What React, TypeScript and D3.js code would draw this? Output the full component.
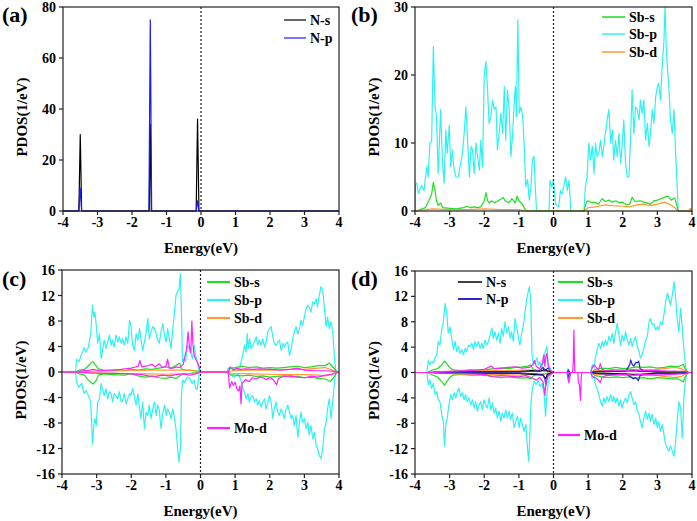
import React from "react";
import * as d3 from "d3";

type Pt = [number, number];

// ---------- (a) N partial DOS ----------
const aNs: Pt[] = [[-4,0],[-3.54,0],[-3.5,30],[-3.46,0],[-1.5,0],[-1.47,34],[-1.44,0],[-0.14,0],[-0.1,36],[-0.06,0],[4,0]];
const aNp: Pt[] = [[-4,0],[-3.54,0],[-3.5,9],[-3.46,0],[-1.51,0],[-1.47,75],[-1.43,0],[-0.14,0],[-0.1,4],[-0.06,0],[4,0]];

// ---------- (b) Sb partial DOS ----------
const bSbs: Pt[] = [[-4,0],[-3.9,0.1],[-3.7,0.5],[-3.6,1.5],[-3.52,2.5],[-3.47,4.2],[-3.42,3],[-3.38,1.5],[-3.33,0.8],[-3.26,1.2],[-3.2,0.5],[-3,0.4],[-2.8,0.3],[-2.6,0.5],[-2.5,0.7],[-2.4,0.5],[-2.3,0.6],[-2.2,0.5],[-2.1,0.6],[-2,1.5],[-1.95,2.7],[-1.9,1.5],[-1.85,1.2],[-1.8,1.5],[-1.7,1.2],[-1.6,1.5],[-1.5,1.8],[-1.45,2],[-1.4,1.5],[-1.3,1.2],[-1.2,1.8],[-1.1,1.2],[-1.05,2.2],[-1,1.5],[-0.9,1],[-0.85,0.5],[-0.8,0.1],[-0.75,0],[0.88,0],[0.95,1.3],[1,1.5],[1.1,1.2],[1.2,1.3],[1.3,1],[1.4,1.8],[1.5,1.4],[1.6,1.6],[1.7,1.3],[1.8,1.5],[1.9,1.2],[2,1.3],[2.1,0.9],[2.2,1],[2.27,2],[2.35,1.4],[2.5,1.5],[2.6,1.3],[2.7,1.2],[2.8,1],[2.9,1.5],[3,1.6],[3.1,1.8],[3.2,2],[3.3,2.2],[3.4,1.6],[3.5,1.9],[3.55,1],[3.6,0],[4,0]];
const bSbp: Pt[] = [[-4,0],[-3.99,3.9],[-3.95,4.1],[-3.9,2.6],[-3.81,3.8],[-3.74,3],[-3.66,6.5],[-3.62,5],[-3.57,10],[-3.52,10.2],[-3.47,24.2],[-3.42,15.3],[-3.38,13.9],[-3.33,5.5],[-3.26,14.9],[-3.21,7.5],[-3.16,4.1],[-3.11,11.9],[-3.07,8.5],[-3.01,12.6],[-2.97,6.5],[-2.92,9],[-2.88,6.5],[-2.82,5],[-2.75,5],[-2.7,6.5],[-2.63,8.5],[-2.58,11.4],[-2.53,15.3],[-2.48,10.4],[-2.43,5],[-2.38,9.5],[-2.34,9],[-2.29,5.5],[-2.24,10],[-2.19,8],[-2.14,6],[-2.1,10.4],[-2.05,6.5],[-2,20.2],[-1.95,22],[-1.9,17.3],[-1.86,12.9],[-1.81,13.9],[-1.76,16.3],[-1.71,14.9],[-1.66,15.3],[-1.62,9],[-1.57,11.4],[-1.52,14.4],[-1.47,11.4],[-1.42,18.3],[-1.38,10.4],[-1.33,17.8],[-1.28,14.9],[-1.23,8],[-1.18,11.4],[-1.13,16.3],[-1.1,18.3],[-1.07,13.9],[-1.03,28.1],[-0.99,14.4],[-0.94,15.3],[-0.89,13.9],[-0.85,10],[-0.8,3.6],[-0.75,4.6],[-0.7,1.6],[-0.65,3.6],[-0.61,7.5],[-0.56,8],[-0.53,4],[-0.49,0],[-0.13,0],[-0.1,4.5],[-0.05,3.5],[0,4.5],[0.06,1],[0.15,0.6],[0.2,3],[0.25,2.5],[0.35,5],[0.4,3],[0.45,4.5],[0.5,0],[0.88,0],[0.92,3.6],[0.97,5],[1.02,10],[1.07,7.5],[1.12,9.5],[1.17,5.5],[1.21,10],[1.26,8],[1.31,8.5],[1.36,10.4],[1.41,8],[1.45,9.5],[1.5,11.4],[1.55,13.4],[1.6,14.9],[1.65,10],[1.7,11.9],[1.74,7.5],[1.79,10.4],[1.84,8],[1.89,11.4],[1.94,7],[1.98,9.5],[2.03,13.4],[2.08,7],[2.13,5],[2.18,5],[2.23,11.4],[2.27,17.8],[2.32,11.4],[2.37,15.3],[2.42,14.9],[2.47,13.4],[2.51,16.3],[2.56,14.4],[2.61,16.3],[2.66,10.4],[2.71,12.9],[2.76,9.5],[2.8,11.4],[2.85,14.9],[2.9,12.9],[2.95,16.8],[3,18.3],[3.04,18.8],[3.09,16.3],[3.14,21.2],[3.19,25.1],[3.22,30],[3.26,23.6],[3.29,21.2],[3.33,18.3],[3.38,13.4],[3.43,11.4],[3.48,14.9],[3.53,8],[3.57,4],[3.6,0],[4,0]];
const bSbd: Pt[] = [[-4,0],[-3.9,0.05],[-3.5,0.3],[-3,0.2],[-2.5,0.2],[-2,0.3],[-1.5,0.2],[-1,0.2],[-0.8,0],[0.9,0],[1,0.5],[1.2,0.6],[1.5,0.9],[1.7,0.8],[2,0.7],[2.2,0.6],[2.4,0.9],[2.6,1],[2.8,0.8],[3,1],[3.2,1.3],[3.35,1],[3.5,0.5],[3.6,0],[3.9,0],[3.95,0.4],[4,0]];

// ---------- (c) spin-resolved, Mo doped ----------
const cSbsUp: Pt[] = [[-4,0],[-3.6,0],[-3.5,0.3],[-3.35,0.4],[-3.25,0.9],[-3.15,1.5],[-3.1,1.6],[-3.05,1.2],[-2.95,0.5],[-2.8,0.3],[-2.6,0.2],[-2.4,0.3],[-2.2,0.2],[-2,0.4],[-1.8,0.3],[-1.6,0.5],[-1.4,0.4],[-1.2,0.6],[-1,0.8],[-0.85,0.6],[-0.75,0.9],[-0.65,1.2],[-0.6,1.4],[-0.55,0.5],[-0.45,0.3],[-0.3,0.3],[-0.15,0.2],[-0.05,0.1],[0,0],[0.8,0],[0.85,0.6],[1,0.7],[1.2,0.9],[1.4,0.7],[1.6,0.8],[1.8,0.6],[2,0.7],[2.2,0.6],[2.4,0.7],[2.6,0.8],[2.8,0.9],[3,0.7],[3.2,0.8],[3.4,1],[3.6,1],[3.72,1.4],[3.8,0.9],[3.9,0.3],[3.95,0],[4,0]];
const cSbsDn: Pt[] = [[-4,0],[-3.6,0],[-3.5,-0.3],[-3.35,-0.5],[-3.25,-1.2],[-3.15,-1.7],[-3.1,-1.9],[-3,-1.2],[-2.95,-0.5],[-2.8,-0.3],[-2.5,-0.4],[-2.2,-0.5],[-2,-0.3],[-1.8,-0.6],[-1.6,-0.8],[-1.4,-0.7],[-1.2,-0.9],[-1,-1],[-0.85,-0.8],[-0.7,-1],[-0.6,-0.6],[-0.5,-0.3],[-0.3,-0.2],[0,0],[0.8,0],[0.85,-0.4],[1,-0.5],[1.2,-0.6],[1.4,-0.5],[1.6,-0.7],[1.8,-0.6],[2,-0.8],[2.2,-0.7],[2.4,-0.6],[2.6,-0.8],[2.8,-0.7],[3,-0.9],[3.2,-0.8],[3.4,-1],[3.6,-1.1],[3.75,-1.5],[3.85,-0.8],[3.95,0],[4,0]];
const cSbpUp: Pt[] = [[-4,0],[-3.61,0],[-3.58,2],[-3.51,1.6],[-3.43,2.9],[-3.36,3.8],[-3.31,3.1],[-3.24,3.9],[-3.17,6],[-3.12,10.5],[-3.08,8.6],[-3.05,9.4],[-3.01,7.3],[-2.97,4.5],[-2.92,6],[-2.87,2.1],[-2.82,3.7],[-2.78,5],[-2.73,3.7],[-2.68,4.7],[-2.63,5.8],[-2.58,4.2],[-2.54,5],[-2.49,3.9],[-2.44,5.8],[-2.39,4.7],[-2.34,5.5],[-2.29,4.5],[-2.25,5.2],[-2.2,4.2],[-2.15,5.5],[-2.1,4.5],[-2.05,8.1],[-2.01,7.3],[-1.96,4.2],[-1.91,3.4],[-1.86,6],[-1.81,5],[-1.76,6.8],[-1.72,5.2],[-1.67,3.4],[-1.62,4.7],[-1.57,6.3],[-1.52,8.4],[-1.48,5.2],[-1.43,6.3],[-1.38,7.1],[-1.33,6.8],[-1.28,6],[-1.24,5],[-1.19,4.5],[-1.14,6.3],[-1.09,7.6],[-1.04,5.8],[-0.99,4.7],[-0.95,6.8],[-0.9,5.2],[-0.85,3.7],[-0.8,6.8],[-0.75,9.4],[-0.71,12],[-0.66,12.6],[-0.62,13.1],[-0.58,15.4],[-0.55,9.4],[-0.52,1.6],[-0.47,2.1],[-0.43,1.6],[-0.38,4.2],[-0.33,3.7],[-0.28,2.9],[-0.23,2.1],[-0.18,4.2],[-0.14,2.6],[-0.09,1.6],[-0.04,0],[0.78,0],[0.79,0.6],[0.84,0.5],[0.93,0.6],[1.03,0.3],[1.13,0.5],[1.17,1.6],[1.22,2.6],[1.27,4.2],[1.32,3.1],[1.35,6],[1.38,3.7],[1.42,5.2],[1.46,3.7],[1.51,4.2],[1.56,4.7],[1.61,5.5],[1.65,4.2],[1.7,5],[1.75,4.2],[1.8,5.2],[1.85,3.9],[1.89,4.5],[1.94,6.3],[1.99,6.8],[2.04,7.1],[2.09,5.5],[2.13,4.5],[2.18,4.2],[2.23,4.7],[2.28,5],[2.33,3.4],[2.38,4.5],[2.42,3.9],[2.47,4.5],[2.52,4.7],[2.57,2.6],[2.62,3.7],[2.66,5.2],[2.71,6.3],[2.76,7.1],[2.81,6],[2.86,6.8],[2.9,8.1],[2.95,7.3],[3,8.6],[3.05,9.9],[3.1,10.5],[3.14,10.2],[3.19,9.4],[3.24,11],[3.29,10.7],[3.34,11.5],[3.38,10.2],[3.43,12],[3.48,13.4],[3.53,12.8],[3.58,9.9],[3.63,7.1],[3.67,8.6],[3.72,6.8],[3.77,7.9],[3.82,6.3],[3.87,2.1],[3.91,0],[4,0]];
const cSbpDn: Pt[] = [[-4,0],[-3.61,0],[-3.58,-1.6],[-3.51,-2.4],[-3.43,-1.8],[-3.36,-3.4],[-3.31,-2.9],[-3.24,-3.7],[-3.17,-4.7],[-3.12,-11.3],[-3.08,-8.4],[-3.05,-7.3],[-3.01,-8.4],[-2.97,-4.7],[-2.92,-4.2],[-2.87,-1.8],[-2.82,-2.9],[-2.78,-3.7],[-2.73,-2.6],[-2.68,-4.2],[-2.63,-3.1],[-2.58,-3.4],[-2.54,-4.7],[-2.49,-3.4],[-2.44,-3.7],[-2.39,-4.2],[-2.34,-3.1],[-2.29,-4.7],[-2.25,-4.5],[-2.2,-3.4],[-2.15,-5],[-2.1,-4.2],[-2.05,-3.4],[-2.01,-3.7],[-1.96,-2.6],[-1.91,-3.9],[-1.86,-5.2],[-1.81,-3.4],[-1.76,-5.8],[-1.72,-7.3],[-1.67,-4.7],[-1.62,-8.9],[-1.57,-6.3],[-1.52,-6.8],[-1.48,-5.2],[-1.43,-7.3],[-1.38,-5.8],[-1.33,-4.7],[-1.28,-6.8],[-1.24,-5.2],[-1.19,-6],[-1.14,-8.9],[-1.09,-6.5],[-1.04,-5.2],[-0.99,-6.8],[-0.95,-5.8],[-0.9,-6.3],[-0.85,-7.3],[-0.8,-5.8],[-0.75,-7.3],[-0.71,-8.9],[-0.66,-12],[-0.62,-14.1],[-0.58,-12],[-0.55,-3.7],[-0.52,-1.3],[-0.45,-1.6],[-0.38,-0.8],[-0.31,-1],[-0.24,-1.8],[-0.18,-1.3],[-0.14,-2.6],[-0.1,-2.8],[-0.07,-1.6],[-0.04,0],[0.78,0],[0.79,-0.2],[0.88,-0.5],[0.98,-0.8],[1.08,-0.3],[1.17,-1.3],[1.22,-2.6],[1.27,-3.1],[1.32,-4.2],[1.37,-3.4],[1.41,-4.7],[1.46,-3.9],[1.51,-3.7],[1.56,-4.7],[1.61,-4.2],[1.65,-5.2],[1.7,-4.5],[1.75,-5.5],[1.8,-4.7],[1.85,-4.2],[1.89,-5.8],[1.94,-5],[1.99,-3.7],[2.04,-4.7],[2.09,-7.3],[2.13,-5.8],[2.18,-4.7],[2.23,-6.3],[2.28,-6.8],[2.33,-5.8],[2.38,-6.5],[2.42,-7.3],[2.47,-5.8],[2.52,-5.2],[2.57,-6.3],[2.62,-7.3],[2.66,-6.8],[2.71,-8.4],[2.76,-6.8],[2.81,-10.2],[2.86,-7.9],[2.9,-6.3],[2.95,-7.9],[3,-7.3],[3.05,-8.9],[3.1,-7.9],[3.14,-9.9],[3.19,-8.4],[3.24,-10.5],[3.29,-9.4],[3.34,-11.5],[3.38,-12],[3.43,-13.1],[3.48,-13.6],[3.53,-12],[3.58,-8.9],[3.63,-7.9],[3.67,-5.8],[3.72,-4.2],[3.77,-7.3],[3.82,-4.7],[3.87,-1.6],[3.91,0],[4,0]];
const cSbdUp: Pt[] = [[-4,0],[-3.6,0],[-3.4,0.1],[-3,0.15],[-2.5,0.2],[-2,0.2],[-1.5,0.3],[-1,0.3],[-0.5,0.3],[-0.2,0.2],[0,0],[0.8,0],[0.9,0.2],[1.5,0.3],[2,0.3],[2.5,0.4],[3,0.4],[3.4,0.6],[3.6,0.7],[3.8,0.3],[3.95,0],[4,0]];
const cSbdDn: Pt[] = [[-4,0],[-3.6,0],[-3.4,-0.1],[-3,-0.15],[-2.5,-0.2],[-2,-0.25],[-1.5,-0.3],[-1,-0.35],[-0.5,-0.3],[-0.2,-0.2],[0,0],[0.8,0],[0.9,-0.2],[1.5,-0.3],[2,-0.35],[2.5,-0.4],[3,-0.4],[3.4,-0.5],[3.6,-0.6],[3.8,-0.3],[3.95,0],[4,0]];
const cModUp: Pt[] = [[-4,0],[-3.6,0],[-3.4,0.2],[-3.2,0.3],[-3.1,0.4],[-2.9,0.2],[-2.6,0.3],[-2.3,0.4],[-2,0.6],[-1.8,0.9],[-1.75,1.8],[-1.7,0.8],[-1.5,1],[-1.4,1.2],[-1.3,0.8],[-1.2,1.3],[-1.1,0.7],[-1,0.9],[-0.95,2],[-0.9,0.6],[-0.8,0.6],[-0.7,0.8],[-0.6,0.7],[-0.5,1.2],[-0.45,2.5],[-0.4,3.6],[-0.36,6.3],[-0.32,4],[-0.28,3],[-0.25,8],[-0.22,4.5],[-0.18,2.5],[-0.12,1.8],[-0.06,1.2],[0,0],[0.8,0],[0.85,0.8],[0.95,0.3],[1.05,0.6],[1.15,0.4],[1.3,0.5],[1.5,0.4],[1.7,0.5],[2,0.4],[2.3,0.3],[2.6,0.4],[2.8,0.6],[3,0.3],[3.3,0.2],[3.6,0.2],[3.9,0.1],[4,0]];
const cModDn: Pt[] = [[-4,0],[-3.6,0],[-3.3,-0.1],[-3,-0.2],[-2.5,-0.2],[-2,-0.3],[-1.7,-0.4],[-1.5,-0.6],[-1.3,-0.7],[-1.1,-0.5],[-0.9,-0.6],[-0.7,-0.4],[-0.5,-0.3],[-0.3,-0.5],[-0.15,-0.3],[0,0],[0.8,0],[0.84,-2.5],[0.9,-1.5],[0.95,-2.1],[1,-1.6],[1.05,-2.6],[1.1,-3],[1.14,-2.2],[1.17,-5],[1.2,-1.8],[1.3,-1.2],[1.4,-1.5],[1.5,-0.9],[1.6,-1.1],[1.7,-0.8],[1.8,-0.9],[1.9,-1.2],[2,-0.9],[2.1,-1.2],[2.2,-2],[2.25,-1],[2.4,-0.7],[2.6,-0.6],[2.8,-0.8],[3,-0.9],[3.2,-0.7],[3.4,-0.8],[3.6,-0.5],[3.8,-0.4],[3.95,0],[4,0]];

// ---------- (d) spin-resolved, N-Mo co-doped ----------
const dNsUp: Pt[] = [[-4,0],[-3.6,0],[-3,0.05],[-2,0.1],[-1,0.15],[-0.6,0.3],[-0.4,0.2],[-0.25,0.5],[-0.2,0.3],[0,0],[1.1,0],[1.2,0.1],[2,0.2],[2.3,0.3],[2.5,0.2],[3,0.1],[3.8,0.1],[3.9,0],[4,0]];
const dNsDn: Pt[] = [[-4,0],[-3.6,0],[-3,-0.05],[-2,-0.1],[-1,-0.15],[-0.6,-0.3],[-0.3,-0.4],[-0.22,-1],[-0.18,-0.3],[0,0],[1.1,0],[1.2,-0.1],[2,-0.2],[2.3,-0.3],[2.5,-0.3],[3,-0.1],[3.8,-0.1],[3.9,0],[4,0]];
const dNpUp: Pt[] = [[-4,0],[-3.6,0],[-2,0.05],[-1,0.1],[-0.6,0.2],[-0.4,0.3],[-0.3,0.8],[-0.25,0.3],[-0.15,0.7],[-0.1,0.2],[0,0],[0.4,0],[0.43,0.4],[0.47,0],[1.1,0],[1.3,0.2],[1.8,0.2],[2.1,0.3],[2.2,1.2],[2.23,2],[2.27,1.3],[2.32,1],[2.38,1.6],[2.42,1.5],[2.46,1.8],[2.5,0.6],[2.6,0.3],[3,0.1],[3.5,0.2],[3.9,0],[4,0]];
const dNpDn: Pt[] = [[-4,0],[-3.6,0],[-2,-0.05],[-1,-0.1],[-0.5,-0.2],[-0.3,-0.4],[-0.25,-1],[-0.22,-2],[-0.18,-0.6],[-0.1,-0.2],[0,0],[0.4,0],[0.43,-0.8],[0.47,0],[1.1,0],[1.3,-0.2],[1.8,-0.3],[2.1,-0.2],[2.2,-0.6],[2.3,-1],[2.38,-0.8],[2.45,-1.3],[2.5,-0.5],[2.6,-0.3],[3,-0.2],[3.5,-0.2],[3.9,0],[4,0]];
const dSbsUp: Pt[] = [[-4,0],[-3.65,0],[-3.5,0.4],[-3.35,0.6],[-3.25,1.1],[-3.15,1.8],[-3.1,1.5],[-3,0.8],[-2.9,0.4],[-2.7,0.3],[-2.4,0.4],[-2.1,0.3],[-1.9,0.5],[-1.7,0.6],[-1.5,0.7],[-1.3,0.6],[-1.1,0.8],[-0.9,0.9],[-0.75,1],[-0.65,1.2],[-0.6,0.6],[-0.5,0.3],[-0.3,0.2],[-0.1,0.1],[0,0],[1.1,0],[1.2,0.5],[1.4,0.7],[1.6,0.6],[1.8,0.8],[2,0.6],[2.2,0.7],[2.4,0.9],[2.6,0.8],[2.8,0.9],[3,0.7],[3.2,0.8],[3.4,1],[3.6,0.9],[3.75,1.3],[3.8,0.6],[3.9,0],[4,0]];
const dSbsDn: Pt[] = [[-4,0],[-3.65,0],[-3.5,-0.4],[-3.35,-0.7],[-3.25,-1.3],[-3.15,-2],[-3.1,-1.6],[-3,-0.8],[-2.9,-0.4],[-2.7,-0.3],[-2.4,-0.4],[-2.1,-0.4],[-1.9,-0.5],[-1.7,-0.7],[-1.5,-0.8],[-1.3,-0.7],[-1.1,-0.8],[-0.9,-0.9],[-0.75,-0.8],[-0.65,-1],[-0.6,-0.6],[-0.5,-0.3],[-0.3,-0.2],[-0.1,-0.1],[0,0],[1.1,0],[1.2,-0.5],[1.4,-0.7],[1.6,-0.8],[1.8,-0.7],[2,-0.8],[2.2,-0.7],[2.4,-0.9],[2.6,-0.8],[2.8,-1],[3,-0.8],[3.2,-0.9],[3.4,-1],[3.6,-1],[3.75,-1.5],[3.8,-0.7],[3.9,0],[4,0]];
const dSbpUp: Pt[] = [[-4,0],[-3.66,0],[-3.61,2],[-3.57,1.2],[-3.52,1.7],[-3.47,1.5],[-3.42,2.3],[-3.37,2.8],[-3.33,4.9],[-3.28,4.3],[-3.23,6.7],[-3.18,8],[-3.13,10.9],[-3.08,9.3],[-3.04,6.2],[-2.99,7.2],[-2.94,5.4],[-2.89,3.6],[-2.84,4.9],[-2.8,3.3],[-2.75,4.1],[-2.7,3],[-2.65,3.6],[-2.6,2.8],[-2.55,3.8],[-2.51,3.3],[-2.46,4.3],[-2.41,4.1],[-2.36,4.6],[-2.31,3.6],[-2.27,4.9],[-2.22,4.1],[-2.17,4.9],[-2.12,3.8],[-2.07,4.6],[-2.03,3.8],[-1.98,5.1],[-1.93,4.3],[-1.88,4.9],[-1.83,5.9],[-1.78,7],[-1.74,5.4],[-1.69,6.4],[-1.64,5.1],[-1.59,6.2],[-1.54,4.6],[-1.5,7],[-1.45,5.7],[-1.4,8],[-1.35,6.2],[-1.3,7.2],[-1.25,5.4],[-1.21,6.4],[-1.16,4.9],[-1.11,8.5],[-1.06,7],[-1.01,5.4],[-0.97,4.3],[-0.92,6.2],[-0.87,7.5],[-0.82,9.6],[-0.77,11.7],[-0.72,13],[-0.7,13.5],[-0.66,11.7],[-0.62,2.8],[-0.58,1.2],[-0.53,1.7],[-0.48,2.3],[-0.44,1.2],[-0.39,1.7],[-0.34,0.7],[-0.29,1.7],[-0.24,3.3],[-0.19,4.1],[-0.15,1.2],[-0.1,0.7],[-0.05,0],[0.38,0],[0.42,0.6],[0.46,0],[1.07,0],[1.12,1.2],[1.17,0.7],[1.21,2.3],[1.26,3.6],[1.31,4.6],[1.36,3.8],[1.41,4.9],[1.45,4.1],[1.5,5.1],[1.55,4.3],[1.6,5.7],[1.65,4.9],[1.7,6.2],[1.74,4.6],[1.79,6.2],[1.84,7.7],[1.89,5.9],[1.94,4.3],[1.98,5.9],[2.03,4.9],[2.08,6.4],[2.13,5.1],[2.18,4.3],[2.23,5.4],[2.27,4.1],[2.32,4.9],[2.37,5.7],[2.42,4.1],[2.47,3.3],[2.51,2.3],[2.56,2.8],[2.61,3.8],[2.66,5.1],[2.71,5.7],[2.76,8],[2.8,8.5],[2.85,7.5],[2.9,7.7],[2.95,6.7],[3,7.2],[3.04,6.7],[3.09,8],[3.14,7.5],[3.19,9.1],[3.24,11.2],[3.29,12.5],[3.33,11.7],[3.38,10.6],[3.43,12.2],[3.48,14.3],[3.53,11.7],[3.57,8.5],[3.62,6.4],[3.67,10.1],[3.72,7],[3.77,3.3],[3.82,0.7],[3.86,0],[4,0]];
const dSbpDn: Pt[] = [[-4,0],[-3.66,0],[-3.61,-1.9],[-3.57,-1.2],[-3.52,-2.5],[-3.47,-1.7],[-3.42,-3.5],[-3.37,-3],[-3.33,-4.3],[-3.28,-4.6],[-3.23,-6.6],[-3.18,-7.7],[-3.15,-11.6],[-3.11,-8.2],[-3.07,-7.2],[-3.02,-5.1],[-2.97,-3.5],[-2.92,-4.3],[-2.87,-3.2],[-2.82,-4],[-2.78,-3],[-2.73,-2.5],[-2.68,-3.8],[-2.63,-3.2],[-2.58,-4.3],[-2.54,-3.5],[-2.49,-4.6],[-2.44,-4],[-2.39,-5.1],[-2.34,-4.3],[-2.29,-5.6],[-2.25,-4.6],[-2.2,-6.1],[-2.15,-5.1],[-2.1,-4.6],[-2.05,-5.9],[-2.01,-4.3],[-1.96,-5.1],[-1.91,-5.6],[-1.86,-4],[-1.81,-5.9],[-1.76,-4.8],[-1.72,-6.4],[-1.67,-5.6],[-1.62,-7.2],[-1.57,-6.1],[-1.52,-7.7],[-1.48,-6.4],[-1.43,-7.2],[-1.38,-5.9],[-1.33,-7.2],[-1.28,-6.1],[-1.24,-7.4],[-1.19,-6.4],[-1.14,-8.7],[-1.09,-7.7],[-1.04,-6.9],[-0.99,-8.7],[-0.95,-7.2],[-0.9,-8.2],[-0.85,-9.3],[-0.8,-8.2],[-0.75,-11.9],[-0.72,-14],[-0.69,-10.8],[-0.65,-4.6],[-0.61,-2.5],[-0.56,-1.4],[-0.5,-1.9],[-0.44,-1.2],[-0.39,-2.2],[-0.33,-1.7],[-0.27,-3.5],[-0.23,-6.9],[-0.19,-3.5],[-0.15,-1.4],[-0.1,-0.6],[-0.05,0],[0.38,0],[0.42,-1],[0.46,0],[1.07,0],[1.12,-0.9],[1.17,-0.6],[1.21,-1.9],[1.26,-2.5],[1.31,-3.5],[1.36,-4.6],[1.41,-5.3],[1.45,-4],[1.5,-4.8],[1.55,-3.8],[1.6,-4.6],[1.65,-3.5],[1.7,-4.6],[1.74,-3.8],[1.79,-4.8],[1.84,-4],[1.89,-5.3],[1.94,-4.3],[1.98,-5.6],[2.03,-4.6],[2.08,-4],[2.13,-4.8],[2.18,-3.5],[2.23,-3],[2.27,-4],[2.32,-5.1],[2.37,-4.6],[2.42,-6.1],[2.47,-6.6],[2.51,-7.7],[2.56,-8.7],[2.61,-7.2],[2.66,-6.1],[2.71,-7.4],[2.76,-6.4],[2.8,-7.7],[2.85,-6.6],[2.9,-8.2],[2.95,-7.2],[3,-8.7],[3.04,-7.7],[3.09,-9.3],[3.14,-8.2],[3.19,-9.8],[3.24,-11.4],[3.29,-11.9],[3.33,-12.4],[3.38,-11.6],[3.43,-12.4],[3.48,-13.2],[3.53,-10.8],[3.57,-7.7],[3.62,-4.6],[3.67,-5.6],[3.72,-10.3],[3.77,-3.5],[3.82,-0.9],[3.86,0],[4,0]];
const dSbdUp: Pt[] = [[-4,0],[-3.65,0],[-3.4,0.1],[-3,0.2],[-2.5,0.2],[-2,0.3],[-1.5,0.3],[-1,0.35],[-0.6,0.4],[-0.3,0.3],[0,0],[1.1,0],[1.2,0.3],[1.6,0.3],[2,0.4],[2.5,0.4],[3,0.5],[3.3,0.7],[3.5,0.8],[3.7,0.6],[3.85,0.2],[3.9,0],[4,0]];
const dSbdDn: Pt[] = [[-4,0],[-3.65,0],[-3.4,-0.1],[-3,-0.2],[-2.5,-0.25],[-2,-0.3],[-1.5,-0.35],[-1,-0.4],[-0.6,-0.35],[-0.3,-0.3],[0,0],[1.1,0],[1.2,-0.3],[1.6,-0.35],[2,-0.4],[2.5,-0.45],[3,-0.5],[3.3,-0.7],[3.5,-0.8],[3.7,-0.6],[3.85,-0.2],[3.9,0],[4,0]];
const dModUp: Pt[] = [[-4,0],[-3.65,0],[-3.4,0.1],[-3,0.2],[-2.5,0.3],[-2,0.5],[-1.8,1],[-1.7,0.6],[-1.5,0.7],[-1.3,0.8],[-1.1,0.9],[-0.9,0.7],[-0.7,0.8],[-0.6,1.2],[-0.55,1.9],[-0.5,1],[-0.4,0.6],[-0.32,1.5],[-0.28,2.8],[-0.25,1],[-0.22,2.5],[-0.19,3],[-0.15,1],[-0.1,0.4],[0,0],[0.55,0],[0.57,1.5],[0.59,6.7],[0.61,0.5],[0.63,0],[1.08,0],[1.12,0.8],[1.17,1.2],[1.22,0.9],[1.3,0.4],[1.35,1.4],[1.4,0.5],[1.5,0.3],[1.7,0.4],[2,0.3],[2.3,0.4],[2.6,0.3],[3,0.3],[3.4,0.2],[3.8,0.2],[3.9,0],[4,0]];
const dModDn: Pt[] = [[-4,0],[-3.65,0],[-3,-0.1],[-2.5,-0.2],[-2,-0.3],[-1.8,-0.6],[-1.5,-0.5],[-1.2,-0.6],[-1,-0.7],[-0.8,-0.5],[-0.6,-0.9],[-0.5,-1.2],[-0.4,-0.8],[-0.3,-1.5],[-0.25,-3.6],[-0.22,-1.5],[-0.15,-0.5],[0,0],[0.4,0],[0.42,-1],[0.44,-1.6],[0.47,-0.8],[0.5,0],[0.7,0],[0.72,-1.5],[0.75,-2],[0.78,-4.4],[0.8,-1],[0.82,0],[1.08,0],[1.12,-0.6],[1.2,-0.8],[1.3,-1.2],[1.35,-1.6],[1.4,-0.8],[1.5,-0.5],[1.7,-0.4],[2,-0.3],[2.3,-0.4],[2.6,-0.3],[3,-0.4],[3.4,-0.3],[3.8,-0.2],[3.9,0],[4,0]];

const energyTicks = d3.range(-4, 5, 1);
const aTicks = [0, 20, 40, 60, 80];
const bTicks = [0, 10, 20, 30];
const spinTicks = d3.range(-16, 17, 4);

const C = {
  black: "#000000",
  blue: "#1a1aff",
  blueD: "#2a2ac8",
  green: "#22dd22",
  cyan: "#2ef2f2",
  orange: "#ff9933",
  magenta: "#ff22ff",
};

const FONT = "'Liberation Serif', 'Times New Roman', serif";

type Series = { data: Pt[]; color: string };
type Legend = { label: string; color: string; x0: number; x1: number; y: number; w: number };
type Box = { left: number; right: number; top: number; bottom: number };

function Panel(props: {
  tag: string;
  tagX: number;
  tagY: number;
  box: Box;
  yDomain: [number, number];
  yTicks: number[];
  series: Series[];
  legend: Legend[];
}) {
  const { tag, tagX, tagY, box, yDomain, yTicks, series, legend } = props;
  const x = d3.scaleLinear().domain([-4, 4]).range([box.left, box.right]);
  const y = d3.scaleLinear().domain(yDomain).range([box.bottom, box.top]);
  const line = d3.line<Pt>().x(d => x(d[0])).y(d => y(d[1]));
  const clipId = "clip-" + tag;
  const midY = (box.top + box.bottom) / 2;

  return (
    <g>
      <defs>
        <clipPath id={clipId}>
          <rect x={box.left} y={box.top - 1} width={box.right - box.left} height={box.bottom - box.top + 2} />
        </clipPath>
      </defs>
      <text x={tagX} y={tagY} fontSize={22} fontWeight="bold" fontFamily={FONT}>({tag})</text>

      <g clipPath={`url(#${clipId})`}>
        {series.map((s, i) => (
          <path key={i} d={line(s.data) || ""} fill="none" stroke={s.color} strokeWidth={1.2} strokeLinejoin="round" />
        ))}
      </g>

      {/* Fermi level */}
      <line x1={x(0)} x2={x(0)} y1={box.top} y2={box.bottom} stroke="#222" strokeWidth={1.2} strokeDasharray="2,2" />

      <rect x={box.left} y={box.top} width={box.right - box.left} height={box.bottom - box.top}
        fill="none" stroke="#222" strokeWidth={1.2} />

      {energyTicks.map(t => (
        <g key={"x" + t}>
          <line x1={x(t)} x2={x(t)} y1={box.bottom} y2={box.bottom + 4} stroke="#222" strokeWidth={1.2} />
          <text x={x(t)} y={box.bottom + 16} textAnchor="middle" fontSize={14} fontWeight="bold" fontFamily={FONT}>{t}</text>
        </g>
      ))}
      {yTicks.map(t => (
        <g key={"y" + t}>
          <line x1={box.left - 4} x2={box.left} y1={y(t)} y2={y(t)} stroke="#222" strokeWidth={1.2} />
          <text x={box.left - 7} y={y(t) + 5} textAnchor="end" fontSize={14} fontWeight="bold" fontFamily={FONT}>{t}</text>
        </g>
      ))}

      <text x={(box.left + box.right) / 2} y={box.bottom + 42} textAnchor="middle" fontSize={15} fontWeight="bold" fontFamily={FONT}>Energy(eV)</text>
      <text transform={`translate(${box.left - 36},${midY + 8}) rotate(-90)`} textAnchor="middle" fontSize={15} fontWeight="bold" fontFamily={FONT}>PDOS(1/eV)</text>

      {legend.map(l => (
        <g key={l.label}>
          <line x1={l.x0} x2={l.x1} y1={l.y} y2={l.y} stroke={l.color} strokeWidth={l.w} />
          <text x={l.x1 + 4} y={l.y + 5} fontSize={14} fontWeight="bold" fontFamily={FONT}>{l.label}</text>
        </g>
      ))}
    </g>
  );
}

export default function App() {
  return (
    <svg width={697} height={521} style={{ position: "absolute", left: 0, top: 0, background: "#fff" }}>
      <Panel
        tag="a" tagX={2} tagY={22}
        box={{ left: 63, right: 339, top: 7, bottom: 211 }}
        yDomain={[0, 80]} yTicks={aTicks}
        series={[{ data: aNs, color: C.black }, { data: aNp, color: C.blue }]}
        legend={[
          { label: "N-s", color: C.black, x0: 284, x1: 306, y: 20, w: 1.2 },
          { label: "N-p", color: C.blue, x0: 284, x1: 306, y: 38, w: 1.2 },
        ]}
      />
      <Panel
        tag="b" tagX={351} tagY={22}
        box={{ left: 415, right: 692, top: 7, bottom: 211 }}
        yDomain={[0, 30]} yTicks={bTicks}
        series={[{ data: bSbp, color: C.cyan }, { data: bSbs, color: C.green }, { data: bSbd, color: C.orange }]}
        legend={[
          { label: "Sb-s", color: C.green, x0: 602, x1: 625, y: 17, w: 1.5 },
          { label: "Sb-p", color: C.cyan, x0: 602, x1: 625, y: 34, w: 1.5 },
          { label: "Sb-d", color: C.orange, x0: 602, x1: 625, y: 52, w: 1.5 },
        ]}
      />
      <Panel
        tag="c" tagX={2} tagY={286}
        box={{ left: 62, right: 339, top: 270, bottom: 474 }}
        yDomain={[-16, 16]} yTicks={spinTicks}
        series={[
          { data: cSbpUp, color: C.cyan }, { data: cSbpDn, color: C.cyan },
          { data: cSbsUp, color: C.green }, { data: cSbsDn, color: C.green },
          { data: cSbdUp, color: C.orange }, { data: cSbdDn, color: C.orange },
          { data: cModUp, color: C.magenta }, { data: cModDn, color: C.magenta },
        ]}
        legend={[
          { label: "Sb-s", color: C.green, x0: 207, x1: 230, y: 282, w: 2.2 },
          { label: "Sb-p", color: C.cyan, x0: 207, x1: 230, y: 300, w: 2.2 },
          { label: "Sb-d", color: C.orange, x0: 207, x1: 230, y: 318, w: 2.2 },
          { label: "Mo-d", color: C.magenta, x0: 207, x1: 230, y: 428, w: 2.2 },
        ]}
      />
      <Panel
        tag="d" tagX={351} tagY={286}
        box={{ left: 415, right: 692, top: 271, bottom: 474 }}
        yDomain={[-16, 16]} yTicks={spinTicks}
        series={[
          { data: dSbpUp, color: C.cyan }, { data: dSbpDn, color: C.cyan },
          { data: dSbsUp, color: C.green }, { data: dSbsDn, color: C.green },
          { data: dSbdUp, color: C.orange }, { data: dSbdDn, color: C.orange },
          { data: dNsUp, color: C.black }, { data: dNsDn, color: C.black },
          { data: dNpUp, color: C.blueD }, { data: dNpDn, color: C.blueD },
          { data: dModUp, color: C.magenta }, { data: dModDn, color: C.magenta },
        ]}
        legend={[
          { label: "N-s", color: C.black, x0: 458, x1: 482, y: 282, w: 1.5 },
          { label: "N-p", color: C.blueD, x0: 458, x1: 482, y: 299, w: 2 },
          { label: "Sb-s", color: C.green, x0: 558, x1: 583, y: 282, w: 2.2 },
          { label: "Sb-p", color: C.cyan, x0: 558, x1: 583, y: 300, w: 2.2 },
          { label: "Sb-d", color: C.orange, x0: 558, x1: 583, y: 318, w: 2.2 },
          { label: "Mo-d", color: C.magenta, x0: 558, x1: 580, y: 435, w: 2.2 },
        ]}
      />
    </svg>
  );
}
